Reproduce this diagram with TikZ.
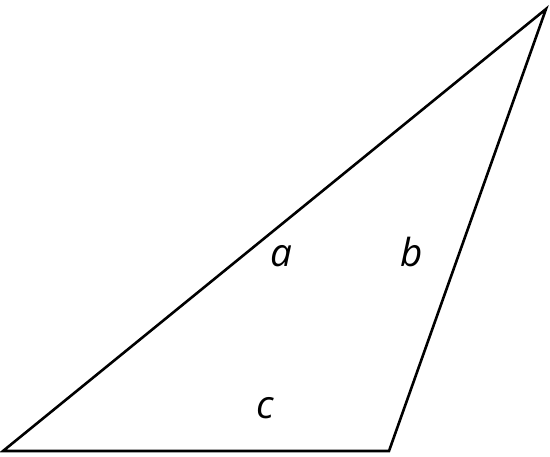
\documentclass[tikz,border=0pt]{standalone}
\usepackage{fontspec}
\setmainfont{Open Sans}
\begin{document}
\begin{tikzpicture}[x=0.02cm,y=-0.02cm,
  edge/.style={line width=2.6pt*0.567,line join=miter,miter limit=20},
  lbl/.style={anchor=base,inner sep=0pt,font=\fontsize{22}{26}\selectfont\itshape}]
\useasboundingbox (0,0) rectangle (550,456);
\coordinate (A) at (3,451);
\coordinate (B) at (389,451);
\coordinate (C) at (546,9);
\draw[edge] (A) -- (B) -- (C) -- cycle;
\node[lbl] (la) at (281,266) {a};
\node[lbl] (lb) at (412,266) {b};
\node[lbl] (lc) at (265,418) {c};
\end{tikzpicture}
\end{document}
